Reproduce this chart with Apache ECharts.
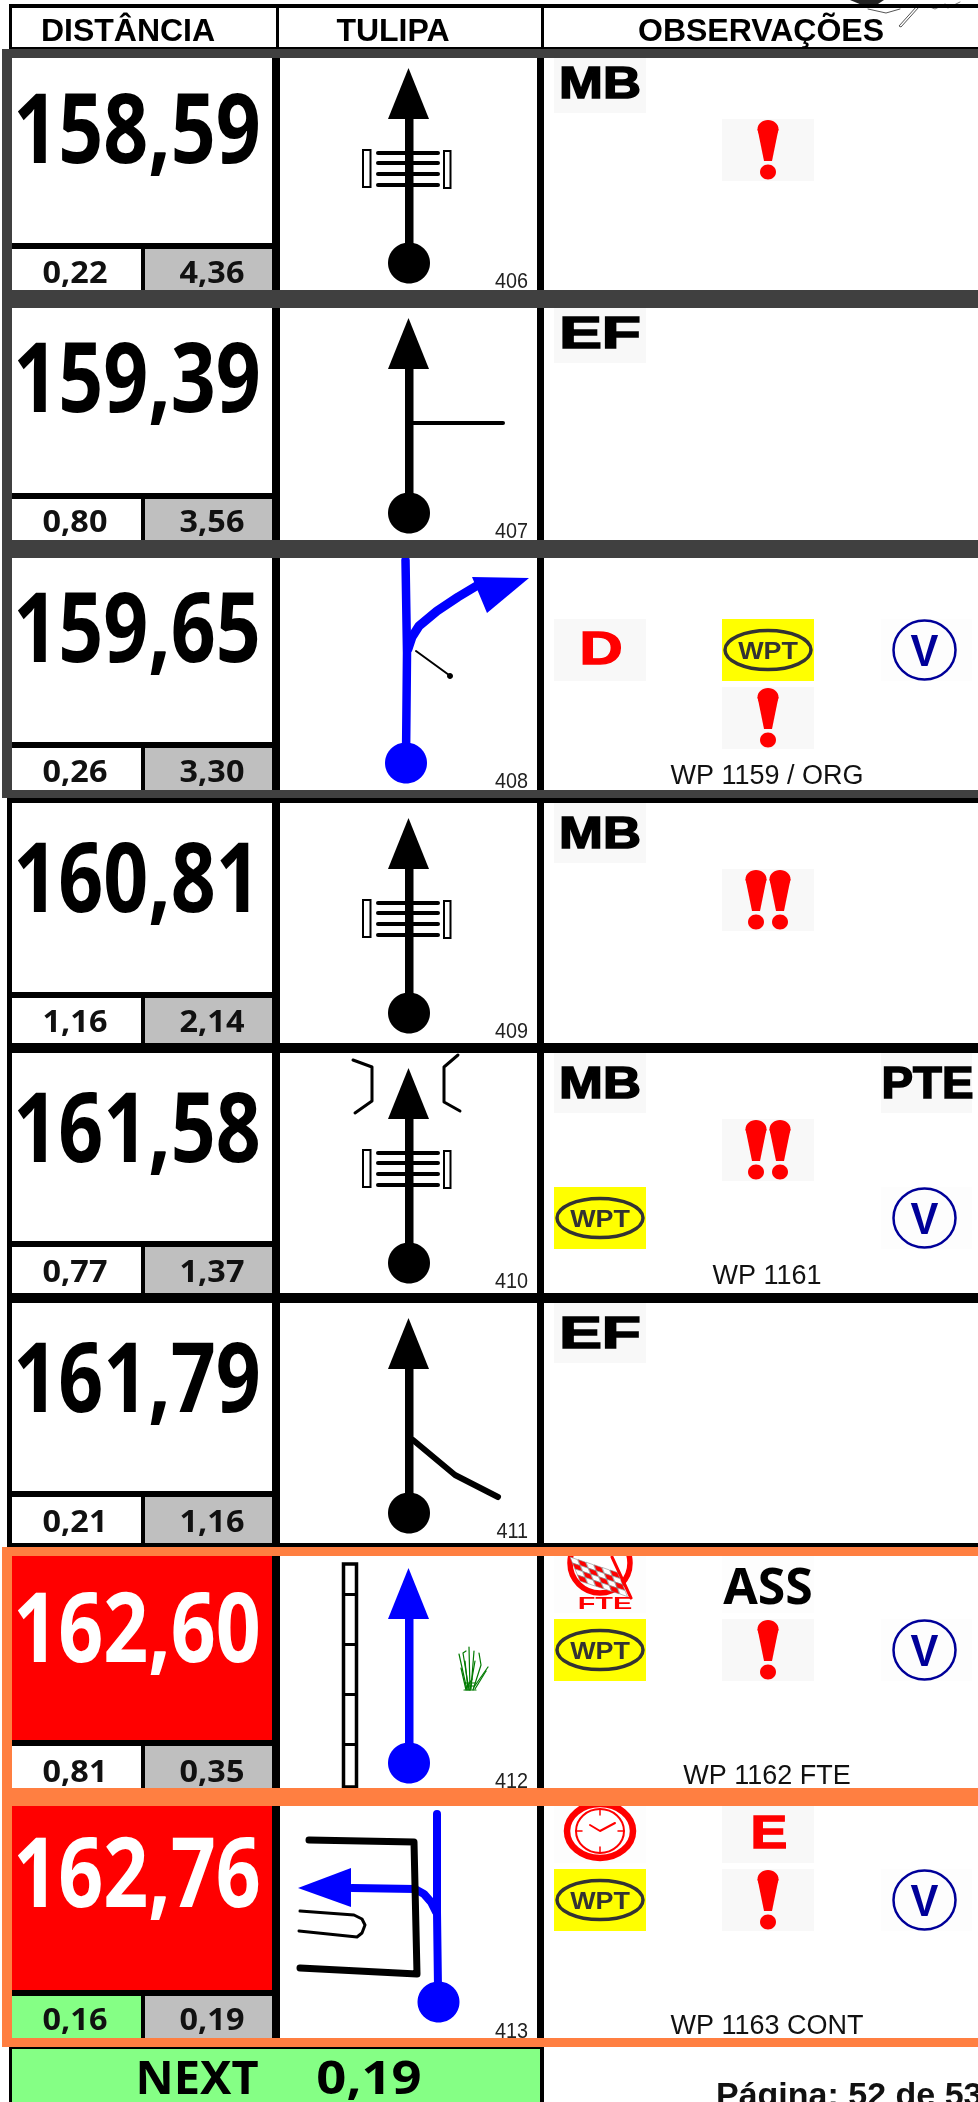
<!DOCTYPE html>
<html>
<head>
<meta charset="utf-8">
<style>html,body{margin:0;padding:0;background:#fff}#main{width:978px;height:2102px}</style>
<script src="https://cdn.jsdelivr.net/npm/echarts@6/dist/echarts.min.js"></script>
</head>
<body>
<div id="main"></div>
<script>
const headers = ['DISTÂNCIA', 'TULIPA', 'OBSERVAÇÕES'];
const distancias = ['158,59', '159,39', '159,65', '160,81', '161,58', '161,79', '162,60', '162,76'];
const parciais = ['0,22', '0,80', '0,26', '1,16', '0,77', '0,21', '0,81', '0,16'];
const restantes = ['4,36', '3,56', '3,30', '2,14', '1,37', '1,16', '0,35', '0,19'];
const tulipaIds = ['406', '407', '408', '409', '410', '411', '412', '413'];
const notas = ['', '', 'WP 1159 / ORG', '', 'WP 1161', '', 'WP 1162 FTE', 'WP 1163 CONT'];
// icon grid per row: three lines of three columns
const icones = [
  ['MB', '', '', '', '!', '', '', '', ''],
  ['EF', '', '', '', '', '', '', '', ''],
  ['', '', '', 'D', 'WPT', 'V', '', '!', ''],
  ['MB', '', '', '', '!!', '', '', '', ''],
  ['MB', '', 'PTE', '', '!!', '', 'WPT', '', 'V'],
  ['EF', '', '', '', '', '', '', '', ''],
  ['FTE', 'ASS', '', 'WPT', '!', 'V', '', '', ''],
  ['CLK', 'E', '', 'WPT', '!', 'V', '', '', '']
];
const destaque = [false, false, false, false, false, false, true, true];
const nextLabel = 'NEXT';
const nextValue = '0,19';
const pagina = 'Página: 52 de 53';

const ROW_H = 250, FIRST = 53;
const subTops = [190, 190, 189, 189, 188, 188, 187, 187];
const distBase = [110, 109, 109, 109, 109, 109, 109, 104];
const subBase = [230, 229, 229, 229, 229, 229, 229, 227];
const GREY = '#404040', ORANGE = '#ff7f41', GREEN = '#85ff85', BLUE = '#0000ff';
const SANS = '"Liberation Sans"', NOTO = '"Noto Sans"';

function rect(x, y, w, h, fill) {
  return { type: 'rect', shape: { x, y, width: w, height: h }, style: { fill } };
}
function ell(cx, cy, rx, ry, fill, stroke, lw) {
  return { type: 'ellipse', shape: { cx, cy, rx, ry }, style: { fill: fill || 'none', stroke: stroke || 'none', lineWidth: lw || 0 } };
}
function poly(points, fill) {
  return { type: 'polygon', shape: { points }, style: { fill } };
}
function line(points, stroke, lw) {
  return {
    type: 'polyline', shape: { points },
    style: { fill: 'none', stroke, lineWidth: lw, lineCap: 'round', lineJoin: 'round' }
  };
}
// y is the baseline; text is centred on x (or anchored by align)
function txt(s, x, y, size, opt) {
  opt = opt || {};
  const lift = opt.lift == null ? 0.29 : opt.lift;
  return {
    type: 'text', x, y: y - size * lift, scaleX: opt.sx || 1,
    style: {
      text: s, x: 0, y: 0, fill: opt.fill || '#000',
      font: (opt.weight || 'bold') + ' ' + size + 'px ' + (opt.family || SANS),
      align: opt.align || 'center', verticalAlign: 'middle',
      stroke: opt.stroke || 'none', lineWidth: opt.lw || 0
    }
  };
}

function bang(cx, top) {
  return [
    ell(cx, top + 9, 10.5, 9, '#f00'),
    poly([[cx - 10.5, top + 9], [cx + 10.5, top + 9], [cx + 4, top + 41], [cx - 4, top + 41]], '#f00'),
    ell(cx, top + 52, 8, 7.5, '#f00')
  ];
}

function arrowShaft(color) {
  return [
    poly([[408.5, 15], [429, 66], [388, 66]], color),
    rect(405, 60, 8.5, 150, color),
    ell(409, 210, 21, 20.5, color)
  ];
}
function ponte() {
  const out = [];
  [100, 110, 121, 132].forEach(y => out.push(line([[378, y], [438, y]], '#000', 4)));
  out.push(
    { type: 'rect', shape: { x: 363, y: 97, width: 7.5, height: 37 }, style: { fill: '#fff', stroke: '#000', lineWidth: 2 } },
    { type: 'rect', shape: { x: 444, y: 98, width: 6.5, height: 37 }, style: { fill: '#fff', stroke: '#000', lineWidth: 2 } }
  );
  return out;
}

function tulipa(i) {
  switch (i) {
    case 0:
    case 3:
      return arrowShaft('#000').concat(ponte());
    case 1:
      return arrowShaft('#000').concat([line([[412, 120], [503, 120]], '#000', 4)]);
    case 2:
      return [
        line([[405.5, 7], [407, 100], [406, 205]], BLUE, 8.5),
        line([[408, 96], [412, 84], [419, 73], [437, 58], [458, 44], [478, 32]], BLUE, 9),
        poly([[472, 24], [529, 25], [487, 60]], BLUE),
        ell(406, 210, 21, 20.5, BLUE),
        line([[416, 98], [449, 122]], '#000', 2),
        ell(450, 123, 3, 3, '#000')
      ];
    case 4:
      return arrowShaft('#000').concat(ponte(), [
        line([[353, 7], [372, 14], [372, 48], [355, 60]], '#000', 3),
        line([[458, 2], [444, 14], [444, 49], [460, 58]], '#000', 3)
      ]);
    case 5:
      return arrowShaft('#000').concat([line([[413, 137], [455, 172], [498, 194]], '#000', 6)]);
    case 6: {
      const out = [{
        type: 'rect', shape: { x: 343.5, y: 11, width: 13, height: 223 },
        style: { fill: '#fff', stroke: '#000', lineWidth: 3.5 }
      }];
      [40, 90, 140, 190].forEach(y => out.push(rect(342, y, 16, 3, '#000')));
      const blades = [
        [[467, 137], [459, 101]], [[469, 137], [463, 100], [466, 98]], [[470, 137], [469, 94]],
        [[471, 136], [474, 98]], [[473, 137], [481, 112], [479, 100]], [[475, 136], [486, 118]],
        [[466, 137], [461, 115]], [[474, 134], [488, 114]], [[470, 137], [475, 108]], [[468, 137], [465, 108]],
        [[464, 137], [476, 137]], [[466, 133], [474, 133]], [[465, 130], [475, 130]], [[467, 134], [472, 126]]
      ];
      blades.forEach(b => out.push(line(b, '#007a00', 1.2)));
      return out.concat(arrowShaft(BLUE));
    }
    default:
      return [
        line([[436, 109], [431, 99], [424, 91], [415, 86], [352, 85]], BLUE, 8),
        poly([[298, 85], [351, 65], [351, 104]], BLUE),
        line([[309, 37], [414, 39], [417, 171], [300, 165]], '#000', 7),
        line([[300, 108], [354, 112], [362, 116], [365, 122], [362, 130], [357, 134], [299, 128]], '#000', 3),
        line([[437, 11], [437, 109], [438, 185]], BLUE, 8),
        ell(438.5, 199, 21, 20.5, BLUE)
      ];
  }
}

const colX = [554, 722, 881], colW = [92, 92, 91];
const lineY = [0, 66, 134], lineH = [60, 62, 62];

function icone(name, c, l) {
  const x = colX[c], w = colW[c], y = lineY[l], h = lineH[l], cx = x + w / 2;
  const bg = (name === 'WPT') ? '#ffff00' : (name === 'V' || name === 'FTE' || name === 'CLK' || name === 'ASS') ? '#fdfdfd' : '#f8f8f8';
  const out = [rect(x, y, w, h, bg)];
  if (name === 'MB' || name === 'EF') {
    out.push(txt(name, cx, y + 46, 45, { sx: name === 'EF' ? 1.42 : 1.17, stroke: '#000', lw: 1.6 }));
  } else if (name === 'PTE') {
    out.push(txt(name, cx + 1, y + 46, 45, { sx: 1.05, stroke: '#000', lw: 1.6 }));
  } else if (name === 'D' || name === 'E') {
    out.push(txt(name, cx + 1, y + 46, 46, { sx: name === 'D' ? 1.3 : 1.2, fill: '#f00', stroke: '#f00', lw: 1.4 }));
  } else if (name === 'ASS') {
    out.push(txt(name, cx, y + 51, 50, { family: NOTO }));
  } else if (name === '!') {
    return out.concat(bang(cx, y + 1));
  } else if (name === '!!') {
    return out.concat(bang(cx - 12, y + 1), bang(cx + 12, y + 1));
  } else if (name === 'WPT') {
    out.push(ell(cx, y + 31, 43, 19.5, null, '#333', 3.5));
    out.push(txt(name, cx, y + 40, 24, { sx: 1.12, fill: '#333' }));
  } else if (name === 'V') {
    out.push(ell(cx - 2, y + 31, 31, 29.5, null, '#000099', 2.5));
    out.push(txt(name, cx - 2, y + 48, 44, { fill: '#000099', sx: 0.95 }));
  } else if (name === 'FTE') {
    const kids = [ell(cx, y + 10, 30, 30, '#fff', '#f00', 5.5)];
    // chequered flag inside the ring
    for (let a = 0; a < 6; a++) {
      for (let b = 0; b < 4; b++) {
        const px = x + 16 + a * 8 + b * 2.5, py = y + 4 + a * 2.6 + b * 6;
        kids.push({
          type: 'polygon',
          shape: { points: [[px, py], [px + 7.5, py + 2.6], [px + 10, py + 8.6], [px + 2.5, py + 6]] },
          style: { fill: (a + b) % 2 ? '#f00' : '#fff', stroke: '#888', lineWidth: 0.6 }
        });
      }
    }
    kids.push(line([[x + 58, y + 4], [x + 77, y + 45]], '#f00', 3));
    out.push({ type: 'group', clipPath: { type: 'rect', shape: { x, y: y + 3, width: w, height: 57 } }, children: kids });
    out.push(txt(name, cx + 5, y + 57, 17, { sx: 1.7, fill: '#f00', lift: 0.32 }));
  } else if (name === 'CLK') {
    const cy = y + 28;
    out.push(ell(cx, cy, 33, 27, '#fff', '#f00', 6.5));
    out.push(ell(cx, cy, 24, 22, '#fff', '#f00', 2));
    out.push(line([[cx - 10, cy - 6], [cx, cy], [cx + 15, cy - 8]], '#f00', 2));
    out.push(line([[cx, cy - 22], [cx, cy - 16]], '#f00', 1.5));
    out.push(line([[cx, cy + 22], [cx, cy + 16]], '#f00', 1.5));
    out.push(line([[cx - 24, cy], [cx - 18, cy]], '#f00', 1.5));
    out.push(line([[cx + 24, cy], [cx + 18, cy]], '#f00', 1.5));
  }
  return out;
}

function renderRow(params, api) {
  const i = api.value(0);
  const origin = api.coord([0, FIRST + i * ROW_H]);
  const sub = subTops[i];
  const hot = destaque[i];
  let kids = [
    rect(7, 0, 971, i === 7 ? 240 : 250, '#000'),
    rect(12, 0, 260, sub, hot ? '#f00' : '#fff'),
    rect(12, sub + 6, 129, 240 - sub - 6, i === 7 ? GREEN : '#fff'),
    rect(145, sub + 6, 127, 240 - sub - 6, '#bfbfbf'),
    rect(280, 0, 257, 240, '#fff'),
    rect(544, 0, 434, 240, '#fff'),
    txt(distancias[i], 137, distBase[i], 96, { family: NOTO, sx: 0.82, fill: hot ? '#fff' : '#000' }),
    txt(parciais[i], 75, subBase[i], 30, { family: NOTO, sx: 1.08, lift: 0.28, fill: '#111' }),
    txt(restantes[i], 212, subBase[i], 30, { family: NOTO, sx: 1.08, lift: 0.28, fill: '#111' })
  ];
  kids = kids.concat(tulipa(i));
  kids.push(txt(tulipaIds[i], 528, 235, 22, { weight: 'normal', sx: 0.9, align: 'right', fill: '#222' }));
  icones[i].forEach((name, k) => {
    if (name) kids = kids.concat(icone(name, k % 3, Math.floor(k / 3)));
  });
  if (notas[i]) kids.push(txt(notas[i], 767, 231, 27, { weight: 'normal', fill: '#111' }));
  return { type: 'group', x: origin[0], y: origin[1], children: kids };
}

// header strip, frames round the highlighted rows and the footer
function renderFrame(params, api) {
  const o = api.coord([0, 0]);
  const kids = [
    // signature behind the header rule
    poly([[850, 0], [884, 0], [878, 4], [862, 5]], '#222'),
    line([[868, 9], [886, 13], [900, 9]], '#555', 1),
    line([[917, 6], [899, 26], [901, 27], [919, 7]], '#555', 1),
    line([[925, 5], [935, 9], [945, 4]], '#777', 1),
    line([[948, 8], [960, 2]], '#777', 1),
    rect(9, 4, 969, 4, '#000'),
    rect(9, 8, 3, 41, '#000'),
    rect(276, 8, 3, 41, '#000'),
    rect(541, 8, 3, 41, '#000'),
    rect(9, 47, 969, 2, '#000'),
    txt(headers[0], 128, 41, 32),
    txt(headers[1], 393, 41, 32),
    txt(headers[2], 761, 41, 32),
    rect(2, 49, 976, 9, GREY),
    rect(2, 290, 976, 18, GREY),
    rect(2, 540, 976, 18, GREY),
    rect(2, 790, 976, 8, GREY),
    rect(2, 49, 10, 749, GREY),
    rect(2, 1547, 976, 9, ORANGE),
    rect(2, 1788, 976, 18, ORANGE),
    rect(2, 2038, 976, 9, ORANGE),
    rect(2, 1547, 10, 500, ORANGE),
    rect(9, 2047, 535, 55, '#000'),
    rect(12, 2049, 528, 53, GREEN),
    txt(nextLabel, 197, 2094, 47, { family: NOTO }),
    txt(nextValue, 369, 2094, 47, { family: NOTO, sx: 1.12 }),
    txt(pagina, 716, 2106, 34, { align: 'left', fill: '#111' })
  ];
  return { type: 'group', x: o[0], y: o[1], children: kids };
}

const chart = echarts.init(document.getElementById('main'), null, { renderer: 'canvas' });
chart.setOption({
  animation: false,
  backgroundColor: '#fff',
  grid: { left: 0, right: 0, top: 0, bottom: 0 },
  xAxis: { type: 'value', min: 0, max: 978, show: false },
  yAxis: { type: 'value', min: 0, max: 2102, inverse: true, show: false },
  series: [
    { type: 'custom', silent: true, clip: false, renderItem: renderRow, encode: { x: 0 }, data: distancias.map((d, i) => [i]) },
    { type: 'custom', silent: true, clip: false, renderItem: renderFrame, encode: { x: 0 }, data: [[0]] }
  ]
});
</script>
</body>
</html>
